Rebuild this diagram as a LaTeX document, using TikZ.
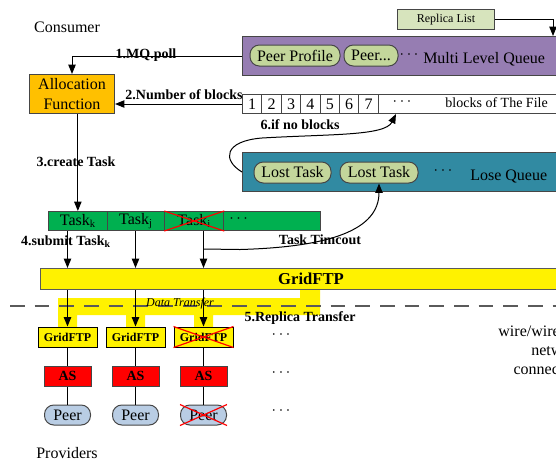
\documentclass[tikz,border=0pt]{standalone}
\usepackage{fontspec}
\setmainfont{Liberation Serif}
\usetikzlibrary{arrows.meta,calc}
\definecolor{bord}{RGB}{70,70,70}
\definecolor{mlqpurple}{RGB}{150,125,178}
\definecolor{pillgreen}{RGB}{195,214,155}
\definecolor{rlgreen}{RGB}{215,228,189}
\definecolor{afor}{RGB}{255,192,0}
\definecolor{lqteal}{RGB}{49,138,162}
\definecolor{taskgreen}{RGB}{0,176,80}
\definecolor{peerblue}{RGB}{185,205,228}
\definecolor{dashgray}{RGB}{90,90,90}
\newcommand{\fsz}[2]{\fontsize{#1}{#2}\selectfont}
\begin{document}
\begin{tikzpicture}[x=0.75pt,y=-0.75pt,
  bw/.style={minimum width={#1*0.75pt}},
  bh/.style={minimum height={#1*0.75pt}},
  bx/.style={draw=bord, line width=0.75pt, inner sep=0pt, anchor=north west},
  pill/.style={draw=bord, line width=0.75pt, rounded corners=7pt, inner sep=0pt, bh=21, font=\fsz{12}{14}},
  cell/.style={draw=bord, line width=0.75pt, fill=white, inner sep=0pt, anchor=north west, font=\fsz{12}{14}},
  lbl/.style={inner sep=0pt, font=\fsz{12}{14}},
  blbl/.style={inner sep=0pt, font=\fsz{10.5}{12}\bfseries},
  arr/.style={draw=black, line width=0.75pt, -{Triangle[length=7pt,width=5.5pt]}},
  ln/.style={draw=black, line width=0.75pt},
  xout/.style={draw=red, line width=0.9pt}
]
\useasboundingbox (0,0) rectangle (556,462);
\clip (0,0) rectangle (556,462);

% ---- Consumer side ----
\node[lbl] (consumer) at (67,27) {Consumer};

\node[bx, fill=rlgreen, bw=97, bh=20, font=\fsz{9}{11}] (rl) at (397,9) {Replica List};

\node[bx, fill=mlqpurple, bw=330, bh=39] (mlq) at (242,36) {};
\node[pill, fill=pillgreen, bw=90] (pp) at (295,55.5) {Peer Profile};
\node[pill, fill=pillgreen, bw=54] (pp2) at (371,55.5) {Peer...};
\node[lbl] (mdots) at (409,55) {$\cdots$};
\node[lbl, anchor=west] (mlqt) at (423,59) {Multi Level Queue};

\coordinate (mlqin) at (553,36);
\draw[arr] (rl.east) -| (mlqin);

\node[bx, fill=afor, bw=85, bh=39, align=center, font=\fsz{12}{14.5}] (af) at (29,74) {Allocation\\Function};

\draw[arr] (mlq.west) -| (af.north);
\node[blbl] (l1) at (146,55) {1.MQ.poll};

% blocks of the file
\foreach \i in {1,...,7} {
  \node[cell, bw=19.4, bh=19] (c\i) at ({242+19.4*(\i-1)},94) {\i};
}
\node[cell, bw=200, bh=19] (crest) at (377.8,94) {};
\node[lbl] (bdots) at (402,102) {$\cdots$};
\node[lbl, anchor=east, font=\fsz{10.5}{12}] (bft) at (548,103) {blocks of The File};

\draw[arr] (c1.west) -- (c1.west -| af.east);
\node[blbl] (l2) at (184,95) {2.Number of blocks};
\node[blbl] (l6) at (300,125) {6.if no blocks};

% lose queue
\node[bx, fill=lqteal, bw=330, bh=39] (lq) at (242,152) {};
\node[pill, fill=pillgreen, bw=77] (lt1) at (292.5,172.5) {Lost Task};
\node[pill, fill=pillgreen, bw=78] (lt2) at (379,172.5) {Lost Task};
\node[lbl] (ldots) at (443,171) {$\cdots$};
\node[lbl, anchor=west] (lqt) at (470,176) {Lose Queue};

\coordinate (blk) at (396,114);
\draw[arr] (lq.west) .. controls (222,160) and (224,141) .. (262,138)
   .. controls (330,134) and (385,136) .. (blk);

% tasks
\node[bx, fill=taskgreen, bw=58.7, bh=19, font=\fsz{12}{14}] (tk) at (48,211) {Task\textsubscript{k}};
\node[bx, fill=taskgreen, bw=57.6, bh=19, font=\fsz{12}{14}] (tj) at (106.7,211) {Task\textsubscript{j}};
\node[bx, fill=taskgreen, bw=59, bh=19, font=\fsz{12}{14}] (ti) at (164.3,211) {Task\textsubscript{i}};
\node[bx, fill=taskgreen, bw=96.7, bh=19] (tdots) at (223.3,211) {};
\node[lbl, anchor=west] (tdt) at (229,219) {$\cdots$};
\draw[xout] (ti.north west) -- (ti.south east) (ti.south west) -- (ti.north east);

\draw[arr] (af.south -| tk.north) -- (tk.north);
\node[blbl] (l3) at (76,162) {3.create Task};

% GridFTP bar and data transfer highlight
\fill[yellow] (58,298) -- (300,298) -- (300,289) -- (320,289) -- (320,315) -- (213,315) -- (213,327) -- (194,327)
  -- (194,315) -- (145,315) -- (145,327) -- (126,327) -- (126,315) -- (77,315) -- (77,327) -- (58,327) -- cycle;
\node[bx, fill=yellow, draw=dashgray, bw=542, bh=21] (gbar) at (40,268) {};
\node[lbl, font=\fsz{12.5}{14}\bfseries] (gbt) at (311,279) {GridFTP};

\draw[dashgray, line width=1pt, dash pattern=on 11pt off 7.5pt] (10,306) -- (556,306);
\node[lbl, font=\fsz{9}{11}\itshape] (dt) at (180,304) {Data Transfer};
\node[blbl] (l5) at (300,318) {5.Replica Transfer};

% providers
\foreach \n/\x in {1/67.5,2/135.5,3/203.5} {
  \node[draw=black, line width=0.75pt, fill=yellow, bw=59, bh=20, inner sep=0pt, font=\fsz{9}{11}\bfseries] (sg\n) at (\x,337) {GridFTP};
  \node[draw=bord, line width=0.75pt, fill=red, bw=47, bh=20, inner sep=0pt, font=\fsz{10.5}{12}\bfseries] (as\n) at (\x,376) {AS};
  \node[draw=bord, line width=0.75pt, fill=peerblue, rounded corners=7pt, bw=46, bh=20, inner sep=0pt, font=\fsz{12}{14}] (p\n) at (\x,415) {Peer};
  \draw[ln] (sg\n.south) -- (as\n.north);
  \draw[ln] (as\n.south) -- (p\n.north);
  \draw[arr] (gbar.south -| sg\n.north) -- (sg\n.north);
}
\draw[arr] (tk.south -| sg1.north) -- (gbar.north -| sg1.north);
\draw[arr] (tj.south -| sg2.north) -- (gbar.north -| sg2.north);
\draw[arr] (ti.south -| sg3.north) -- (gbar.north -| sg3.north);
\draw[xout] (sg3.north west) -- (sg3.south east) (sg3.south west) -- (sg3.north east);
\draw[xout] (p3.north west) -- (p3.south east) (p3.south west) -- (p3.north east);

\node[blbl] (l4) at (66,242) {4.submit Task\textsubscript{k}};

\coordinate (tb) at (203.5,249);
\draw[arr] (tb) -- (240,249.5) .. controls (330,247) and (379,230) .. (lt2.south);
\node[blbl] (ltt) at (320,240) {Task Timcout};

\node[lbl] (pd1) at (281,335) {$\cdots$};
\node[lbl] (pd2) at (281,373) {$\cdots$};
\node[lbl] (pd3) at (281,411) {$\cdots$};

\node[lbl] (providers) at (67,453) {Providers};
\node[lbl, anchor=east, align=right, font=\fsz{12}{14.6}] (wire) at (584,350) {wire/wireless\\network\\connection};
\end{tikzpicture}
\end{document}
